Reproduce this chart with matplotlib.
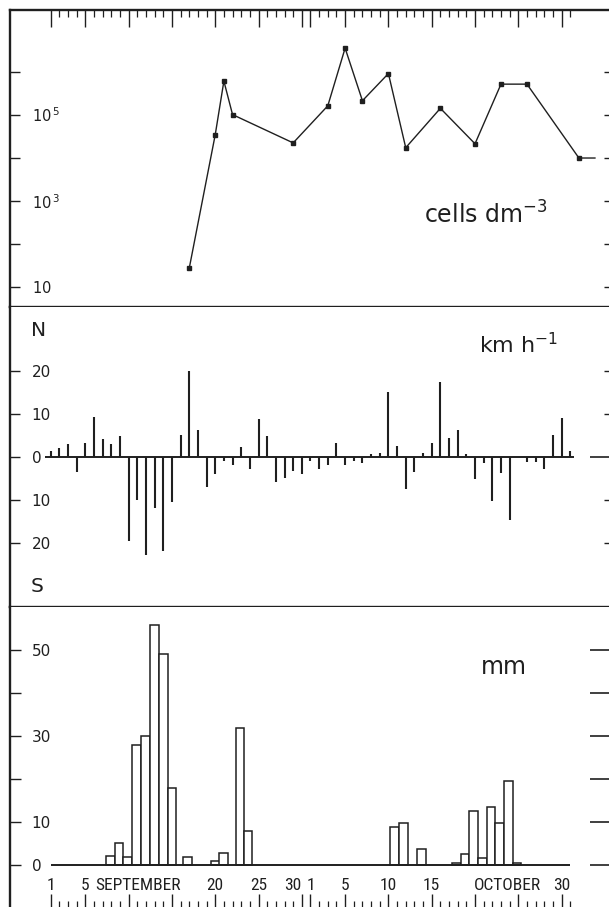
import matplotlib
matplotlib.use("Agg")
import matplotlib.pyplot as plt
import matplotlib.transforms as mtransforms
from matplotlib import font_manager
from matplotlib.ticker import FixedLocator, NullLocator

# ---------------- data (day index: 0 = 1 September, 30 = 1 October) ----------------
cell_days = [16, 19, 20, 21, 28, 32, 34, 36, 39, 41, 45, 49, 52, 55, 61, 62.85]
cell_values = [27, 3.4e4, 6.0e5, 1.0e5, 2.2e4, 1.6e5, 3.5e6, 2.1e5, 9.0e5,
               1.7e4, 1.4e5, 2.1e4, 5.1e5, 5.1e5, 9.8e3, 9.8e3]
cell_sampled = 15          # the last entry is only the trailing line segment

wind_days = list(range(61))
wind_speed = [1.3, 2.1, 3.1, -3.5, 3.3, 9.3, 4.3, 3.1, 4.9, -19.7,
              -10.1, -22.8, -11.9, -22.0, -10.6, 5.1, 20.0, 6.2, -7.0, -3.9,
              -1.0, -1.8, 2.3, -2.7, 8.9, 4.8, -5.8, -4.8, -3.3, -3.9,
              -0.9, -2.8, -1.9, 3.3, -1.9, -1.0, -1.4, 0.7, 0.9, 15.2,
              2.5, -7.5, -3.5, 0.9, 3.3, 17.6, 4.4, 6.2, 0.8, -5.1,
              -1.4, -10.2, -3.7, -14.6, 0.0, -1.2, -1.2, -2.7, 5.2, 9.2, 1.3]

rain_days = [6.9, 7.9, 8.9, 9.9, 10.95, 12.0, 13.0, 14.0, 15.8, 19.0, 19.95,
             21.85, 22.8, 39.7, 40.75, 42.8, 46.85, 47.85, 48.85, 49.85, 50.85,
             51.85, 52.85, 53.85]
rain_mm = [2.0, 5.2, 1.9, 27.9, 30.0, 55.8, 49.0, 17.8, 1.8, 0.9, 2.7,
           31.9, 8.0, 8.9, 9.8, 3.8, 0.5, 2.5, 12.6, 1.7, 13.6, 9.8, 19.6, 0.4]

season = (0, 60)
major_days = [0, 4, 9, 14, 19, 24, 29, 30, 34, 39, 44, 49, 54, 59]
major_labels = ["1", "5", "", "", "20", "25", "30", "1", "5", "10", "15", "", "", "30"]
minor_days = list(range(0, 61))
months = ["SEPTEMBER", "OCTOBER"]
month_pos = [10.1, 52.8]

cell_ticks = [1e1, 1e2, 1e3, 1e4, 1e5, 1e6]
cell_labels = [r"$\mathregular{10}$", "", r"$\mathregular{10^{\,3}}$", "",
               r"$\mathregular{10^{\,5}}$", ""]
wind_ticks = [-20, -10, 0, 10, 20]
wind_labels = ["20", "10", "0", "10", "20"]
rain_ticks = [0, 10, 20, 30, 40, 50]
rain_labels = ["0", "10", "", "30", "", "50"]

# ---------------- styling ----------------
INK = "#1f1f1f"
plt.rcParams["font.family"] = ["DejaVu Sans"]
plt.rcParams["text.color"] = INK
plt.rcParams["axes.edgecolor"] = INK
plt.rcParams["xtick.color"] = INK
plt.rcParams["ytick.color"] = INK

names = {f.name for f in font_manager.fontManager.ttflist}
cond_family = next((n for n in ["Liberation Sans Narrow", "DejaVu Sans Condensed",
                                "Roboto Condensed", "Open Sans Condensed"] if n in names),
                   "DejaVu Sans")

W, H = 609, 907


def rect(x0, y0, x1, y1):
    return [x0 / W, 1 - y1 / H, (x1 - x0) / W, (y1 - y0) / H]


fig = plt.figure(figsize=(W / 100, H / 100), dpi=100)
fig.patch.set_facecolor("white")
ax1 = fig.add_axes(rect(10, 10, 612, 307))
ax2 = fig.add_axes(rect(10, 307, 612, 607))
ax3 = fig.add_axes(rect(10, 607, 612, 907))

XLIM = (-4.70, 64.82)
for ax in (ax1, ax2, ax3):
    ax.set_xlim(*XLIM)
    ax.spines["right"].set_visible(False)
    for s in ax.spines.values():
        s.set_linewidth(1.7)
        s.set_color(INK)
ax2.spines["top"].set_visible(False)
ax3.spines["top"].set_visible(False)
ax3.spines["bottom"].set_visible(False)

# ---------------- panel 1: cells ----------------
ax1.set_yscale("log")
ax1.set_ylim(10 ** 0.53, 10 ** 7.43)
ax1.plot(cell_days, cell_values, color=INK, lw=1.0, zorder=3)
ax1.plot(cell_days[:cell_sampled], cell_values[:cell_sampled], ls="none",
         marker="s", ms=2.6, color=INK, zorder=4)
ax1.yaxis.set_minor_locator(NullLocator())
ax1.set_yticks(cell_ticks, cell_labels, ha="left", fontsize=10.5)
ax1.tick_params(axis="y", direction="in", length=7.5, width=1.0, pad=-15.5)
ax1.xaxis.set_ticks_position("top")
ax1.xaxis.set_major_locator(FixedLocator(major_days))
ax1.xaxis.set_minor_locator(FixedLocator(minor_days))
ax1.tick_params(axis="x", which="major", direction="in", length=12, width=1.0,
                labeltop=False, labelbottom=False)
ax1.tick_params(axis="x", which="minor", direction="in", length=5, width=0.9)
ax1.text(0.79, 0.31, r"cells dm$^{\mathregular{-3}}$", transform=ax1.transAxes,
         ha="center", va="center", fontsize=17)
r1 = ax1.secondary_yaxis("right")
r1.set_yticks(cell_ticks)
r1.yaxis.set_minor_locator(NullLocator())
r1.tick_params(axis="y", direction="in", length=6, width=1.0, labelright=False)
r1.spines["right"].set_visible(False)

# ---------------- panel 2: wind ----------------
ax2.set_ylim(-35, 35)
ax2.vlines(wind_days, 0, wind_speed, color=INK, lw=1.5, zorder=3)
ax2.hlines(0, season[0] - 0.65, season[1] + 0.45, color=INK, lw=1.4, zorder=2)
ax2.set_yticks(wind_ticks, wind_labels, ha="left", fontsize=11)
ax2.tick_params(axis="y", direction="in", length=7.5, width=1.0, pad=-15.5)
ax2.set_xticks([])
ax2.text(0.047, 0.923, "N", transform=ax2.transAxes, ha="center", va="center",
         fontsize=14.5)
ax2.text(0.045, 0.07, "S", transform=ax2.transAxes, ha="center", va="center",
         fontsize=14.5)
ax2.text(0.845, 0.873, r"km h$^{\mathregular{-1}}$", transform=ax2.transAxes,
         ha="center", va="center", fontsize=16)
r2 = ax2.secondary_yaxis("right")
r2.set_yticks([0])
r2.yaxis.set_minor_locator(FixedLocator([-20, -10, 10, 20]))
r2.tick_params(axis="y", which="major", direction="in", length=16, width=1.2,
               labelright=False)
r2.tick_params(axis="y", which="minor", direction="in", length=6, width=1.0,
               labelright=False)
r2.spines["right"].set_visible(False)

# ---------------- panel 3: rain ----------------
ax3.set_ylim(-9.77, 60.0)
ax3.bar(rain_days, rain_mm, width=1.0, facecolor="white", edgecolor=INK,
        linewidth=1.1, zorder=3)
ax3.hlines(0, season[0], season[1], color=INK, lw=1.4, zorder=4)
ax3.set_yticks(rain_ticks, rain_labels, ha="left", fontsize=11)
ax3.tick_params(axis="y", direction="in", length=8, width=1.0, pad=-15.5)
ax3.set_xticks(major_days, major_labels, va="baseline", fontsize=12.5,
               family=cond_family, fontstretch="condensed")
# the "30" of September sits just left of its tick, clear of the "1" of October
ax3.get_xticklabels()[major_labels.index("30")].set_horizontalalignment("right")
ax3.xaxis.set_minor_locator(FixedLocator(minor_days))
ax3.tick_params(axis="x", which="major", direction="in", length=9.5, width=1.0,
                pad=-12.3)
ax3.tick_params(axis="x", which="minor", direction="in", length=4.3, width=0.9)
blend = mtransforms.blended_transform_factory(ax3.transData, ax3.transAxes)
for name, pos in zip(months, month_pos):
    ax3.text(pos, 0.0567, name, transform=blend, ha="center", va="baseline",
             fontsize=12.5, family=cond_family, fontstretch="condensed")
ax3.text(0.82, 0.80, "mm", transform=ax3.transAxes, ha="center", va="center",
         fontsize=17)
r3 = ax3.secondary_yaxis("right")
r3.set_yticks(rain_ticks)
r3.tick_params(axis="y", direction="in", length=16, width=1.2, labelright=False)
r3.spines["right"].set_visible(False)

fig.savefig("out.png", dpi=100, facecolor="white")
